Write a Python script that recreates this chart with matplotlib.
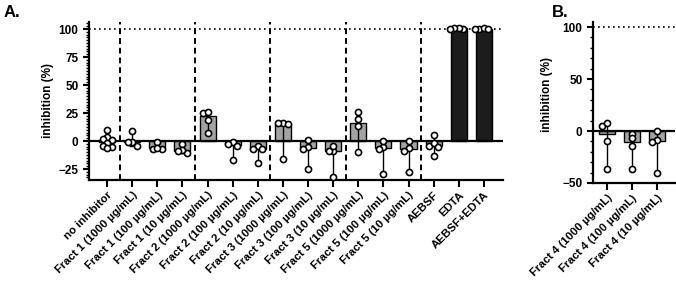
import numpy as np
import matplotlib
matplotlib.use("Agg")
from matplotlib import pyplot as plt
from matplotlib.ticker import MultipleLocator

plt.rcParams['font.family'] = ['Liberation Sans', 'DejaVu Sans']
plt.rcParams['font.weight'] = 'bold'

# panel A data
labels_a = ['no inhibitor',
            'Fract 1 (1000 µg/mL)', 'Fract 1 (100 µg/mL)', 'Fract 1 (10 µg/mL)',
            'Fract 2 (1000 µg/mL)', 'Fract 2 (100 µg/mL)', 'Fract 2 (10 µg/mL)',
            'Fract 3 (1000 µg/mL)', 'Fract 3 (100 µg/mL)', 'Fract 3 (10 µg/mL)',
            'Fract 5 (1000 µg/mL)', 'Fract 5 (100 µg/mL)', 'Fract 5 (10 µg/mL)',
            'AEBSF', 'EDTA', 'AEBSF+EDTA']
points_a = [[10, 4, 2, 1, -2, -4, -5, -6],
            [-4, 9, -1, -1], [-7, -1, -7, -6], [-11, -3, -8, -9],
            [25, 19, 7, 26], [-1, -4, -17, -3], [-4, -7, -20, -7],
            [16, 15, -16, 16], [-5, 1, -25, -7], [-9, -4, -32, -9],
            [26, 20, 13, -10], [-5, 0, -29, -7], [-6, 0, -28, -9],
            [5, -4, -2, -5, -13], [100, 101, 101, 100], [100, 101, 100, 100]]
dark_a = ['EDTA', 'AEBSF+EDTA']
group_breaks = [0.5, 3.5, 6.5, 9.5, 12.5]

# panel B data
labels_b = ['Fract 4 (1000 µg/mL)', 'Fract 4 (100 µg/mL)', 'Fract 4 (10 µg/mL)']
points_b = [[5, -10, -37, 8], [-3, -7, -14, -37], [-9, 0, -40, -11]]

GRAY = '#a3a3a3'
DARK = '#1c1c1c'
MIN_DIST = 4.0  # px, allowed overlap between markers
STEP = 4.6      # px, sideways shift


def swarm(ax, i, pts):
    # simple beeswarm in pixel space
    tr = ax.transData
    py = np.array([tr.transform((i, v))[1] for v in pts])
    pxu = tr.transform((1, 0))[0] - tr.transform((0, 0))[0]
    placed = []
    xs = np.zeros(len(pts))
    for idx in np.argsort(-py):
        for c in [0, -1, 1, -2, 2, -3, 3]:
            cx = c * STEP
            if all((cx - px) ** 2 + (py[idx] - pyy) ** 2 >= MIN_DIST ** 2 for px, pyy in placed):
                break
        placed.append((cx, py[idx]))
        xs[idx] = cx / pxu
    return i + xs


def draw_panel(ax, labels, points, dark):
    x = np.arange(len(labels))
    ax.axhline(0, color='black', linewidth=1.6, zorder=3)
    ax.axhline(100, color='black', linewidth=1.2, linestyle=(0, (1, 2)), zorder=1)
    for i, (lab, pts) in enumerate(zip(labels, points)):
        pts = np.array(pts, dtype=float)
        med = np.median(pts)
        col = DARK if lab in dark else GRAY
        ax.bar(i, med, width=0.64, color=col, edgecolor='black', linewidth=1.0, zorder=2)
        lo, hi = pts.min(), pts.max()
        ax.vlines(i, lo, hi, color='black', linewidth=1.0, zorder=3)
        ax.hlines([lo, hi], i - 0.12, i + 0.12, color='black', linewidth=1.0, zorder=3)
        ax.plot(swarm(ax, i, pts), pts, 'o', ms=4.4, mfc='white', mec='black', mew=1.2,
                zorder=4, clip_on=False)
    ax.set_xticks(x)
    ax.set_xticklabels(labels, rotation=45, ha='right', rotation_mode='anchor',
                       fontsize=8.2, fontweight='bold')
    ax.set_ylabel('inhibition (%)', fontsize=8.5, fontweight='bold')
    for s in ['top', 'right']:
        ax.spines[s].set_visible(False)
    for s in ['left', 'bottom']:
        ax.spines[s].set_linewidth(1.6)
    ax.tick_params(axis='both', which='major', width=1.5, length=4, labelsize=8.5)
    ax.tick_params(axis='y', which='minor', width=1.0, length=2.5)
    ax.tick_params(axis='x', which='major', length=5, pad=2, labelsize=8.2)
    for t in ax.get_yticklabels():
        t.set_fontweight('bold')


fig = plt.figure(figsize=(6.76, 2.9), dpi=100)
ax1 = fig.add_axes([0.1317, 0.3793, 0.6123, 0.545])
ax2 = fig.add_axes([0.877, 0.369, 0.1215, 0.555])

ax1.set_xlim(-0.72, 15.76)
ax1.set_ylim(-34.8, 106.3)
ax2.set_xlim(-0.56, 2.72)
ax2.set_ylim(-50, 104.8)

draw_panel(ax1, labels_a, points_a, dark_a)
for b in group_breaks:
    ax1.axvline(b, color='black', linewidth=1.4, linestyle=(0, (3, 2)), zorder=1)
ax1.set_yticks([-25, 0, 25, 50, 75, 100])
ax1.yaxis.set_minor_locator(MultipleLocator(2.5))
ax1.yaxis.set_label_coords(-0.085, 0.5)

draw_panel(ax2, labels_b, points_b, [])
ax2.set_yticks([-50, 0, 50, 100])
ax2.yaxis.set_minor_locator(MultipleLocator(10))
ax2.yaxis.set_label_coords(-0.48, 0.55)

fig.text(0.006, 0.94, 'A.', fontsize=12, fontweight='bold')
fig.text(0.816, 0.94, 'B.', fontsize=12, fontweight='bold')

plt.savefig('out.png', dpi=100)
